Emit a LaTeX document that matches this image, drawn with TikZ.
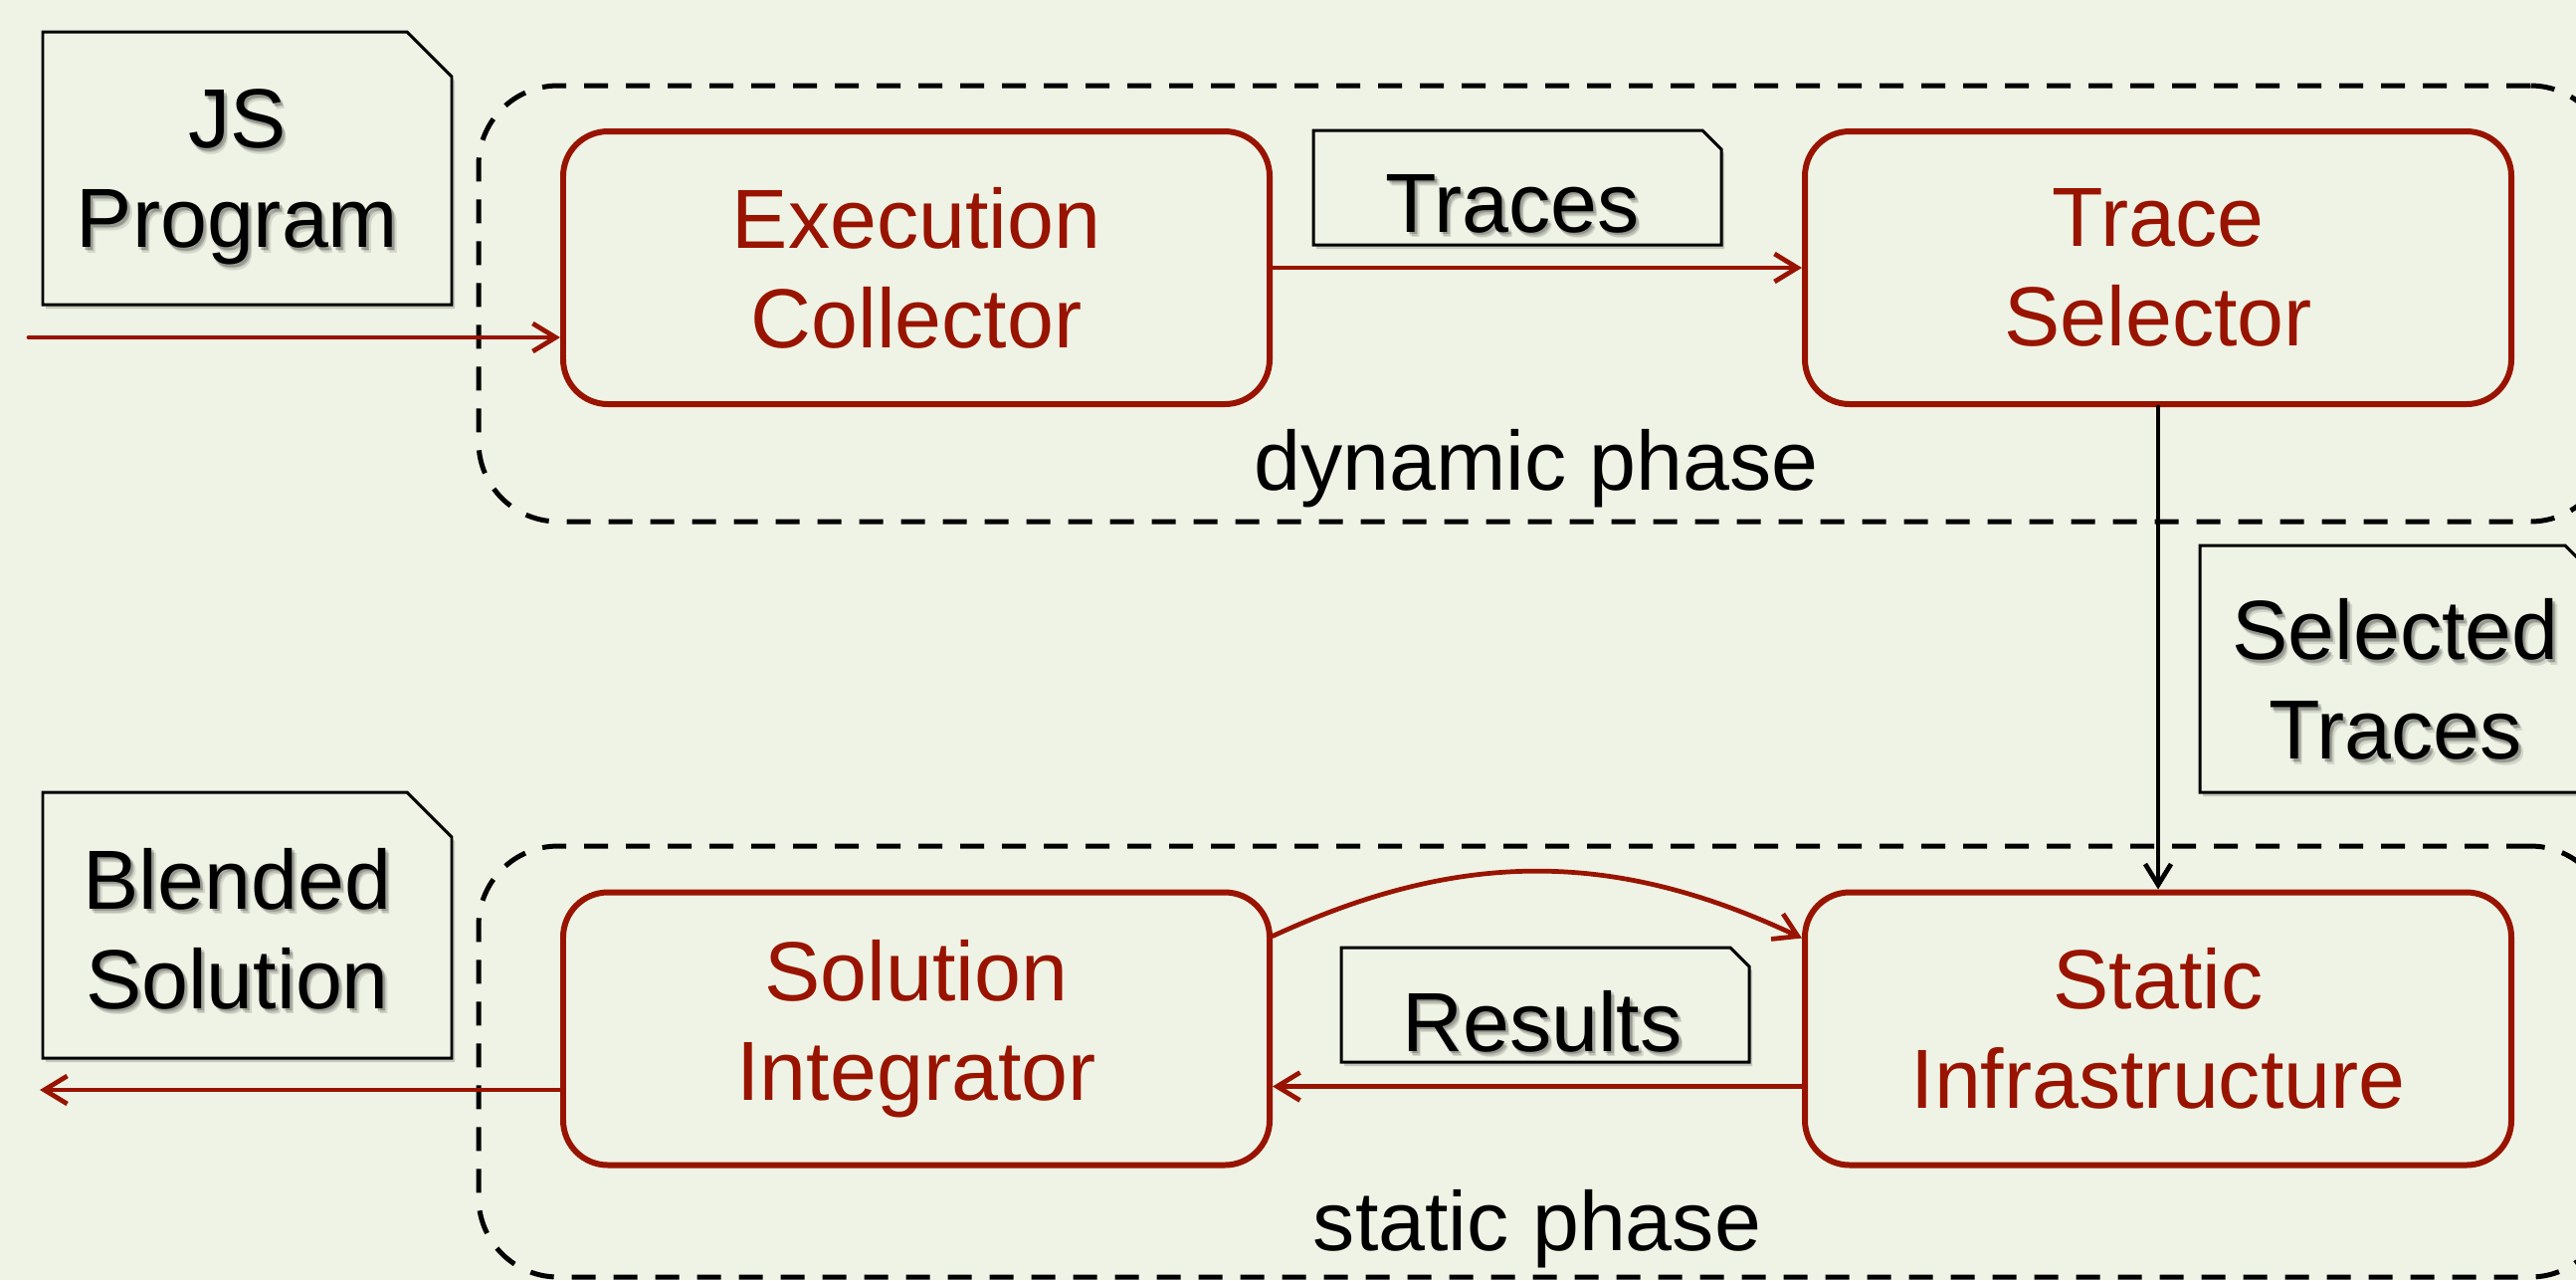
\documentclass[tikz,border=0pt]{standalone}
\usepackage{fontspec}
\setmainfont{Liberation Sans}
\usetikzlibrary{arrows.meta,shadows,calc}
\definecolor{paper}{RGB}{239,243,229}
\definecolor{brick}{RGB}{152,20,0}

\pgfdeclarelayer{paperlayer}
\pgfdeclarelayer{notelayer}
\pgfsetlayers{paperlayer,notelayer,main}

\tikzset{
  bigfont/.style={font=\fontsize{24}{28.45}\selectfont},
  proc/.style={draw=brick, line width=1.7pt, rounded corners=0.45cm,
    minimum width=7.1cm, minimum height=2.74cm, text=brick, align=center,
    bigfont, inner sep=0pt},
  phasebox/.style={draw=black, line width=1.42pt,
    dash pattern=on 0.24cm off 0.18cm, rounded corners=0.8cm, inner sep=0pt},
  phaselabel/.style={bigfont, text=black, anchor=base, inner sep=0pt},
  docline/.style={draw=black, line width=0.85pt, fill=paper, line join=miter,
    drop shadow={shadow xshift=0.03cm, shadow yshift=-0.04cm, opacity=0.18, fill=black}},
  doctext/.style={bigfont, text=black, align=center, inner sep=0pt},
  flow/.style={draw=brick, line width=1.35pt,
    -{Straight Barb[length=0.23cm,width=0.28cm]}, line cap=round},
  pass/.style={draw=black, line width=1.35pt,
    -{Straight Barb[length=0.21cm,width=0.26cm]}, line cap=round},
}

% #1 name, #2 centre, #3 width, #4 height, #5 corner cut, #6 text, #7 text offset
\newcommand\DocNote[7]{%
  \coordinate (#1) at (#2);
  \coordinate (#1-c) at ([shift={(#7)}]#1);
  \begin{pgfonlayer}{notelayer}
    \path[docline] ([shift={({-#3/2},{-#4/2})}]#1)
      -- ([shift={({-#3/2},{#4/2})}]#1)
      -- ([shift={({#3/2-#5},{#4/2})}]#1)
      -- ([shift={({#3/2},{#4/2-#5})}]#1)
      -- ([shift={({#3/2},{-#4/2})}]#1) -- cycle;
  \end{pgfonlayer}
  % soft drop shadow under the note text
  \foreach \dx/\dy [count=\k] in {0.015/-0.025,0.03/-0.04,0.045/-0.055,0.03/-0.025} {
    \node[doctext, text opacity=0.11] (#1-shade\k) at ([shift={(\dx,\dy)}]#1-c) {#6};
  }
  \node[doctext] (#1-text) at (#1-c) {#6};
}

\begin{document}
\begin{tikzpicture}
  \useasboundingbox (0,0) rectangle (25.89,-12.86);
  \begin{pgfonlayer}{paperlayer}
    \fill[paper] (0,0) rectangle (25.89,-12.86);
  \end{pgfonlayer}

  % phase frames
  \node[phasebox, minimum width=21.42cm, minimum height=4.38cm] (dyn) at (15.52,-3.05) {};
  \node[phasebox, minimum width=21.42cm, minimum height=4.33cm] (stat) at (15.52,-10.665) {};
  \node[phaselabel] (dynlabel) at (15.44,-4.92) {dynamic phase};
  \node[phaselabel] (statlabel) at (15.45,-12.56) {static phase};

  % processing stages
  \node[proc] (ec) at (9.21,-2.69) {Execution\\Collector};
  \node[proc] (ts) at (21.69,-2.69) {Trace\\Selector};
  \node[proc] (si) at (9.21,-10.335) {Solution\\Integrator};
  \node[proc] (st) at (21.69,-10.335) {Static\\Infrastructure};

  % data notes
  \DocNote{jsdoc}{2.485,-1.69}{4.11}{2.74}{0.45}{JS\\Program}{-0.1,-0.09}
  \DocNote{blenddoc}{2.485,-9.295}{4.11}{2.67}{0.45}{Blended\\Solution}{-0.1,-0.035}
  \DocNote{tracesdoc}{15.25,-1.885}{4.10}{1.15}{0.19}{Traces}{-0.05,-0.16}
  \DocNote{resultsdoc}{15.53,-10.095}{4.10}{1.15}{0.19}{Results}{-0.03,-0.165}
  \DocNote{seldoc}{24.155,-6.72}{4.09}{2.48}{0.42}{Selected\\Traces}{-0.08,-0.105}

  % connectors
  \coordinate (in) at (0.29,-3.39);
  \coordinate (out) at (0.40,-10.95);
  \draw[flow] (in) -- (in -| ec.west);
  \draw[flow] (ec.east) -- (ts.west);
  \draw[pass] (ts.south) -- (st.north);
  \draw[flow] ([yshift=-0.47cm]si.north east) to[bend left=25] ([yshift=-0.49cm]st.north west);
  \draw[flow] ([yshift=-0.58cm]st.west) -- ([yshift=-0.58cm]si.east);
  \draw[flow] (out -| si.west) -- (out);
\end{tikzpicture}
\end{document}
